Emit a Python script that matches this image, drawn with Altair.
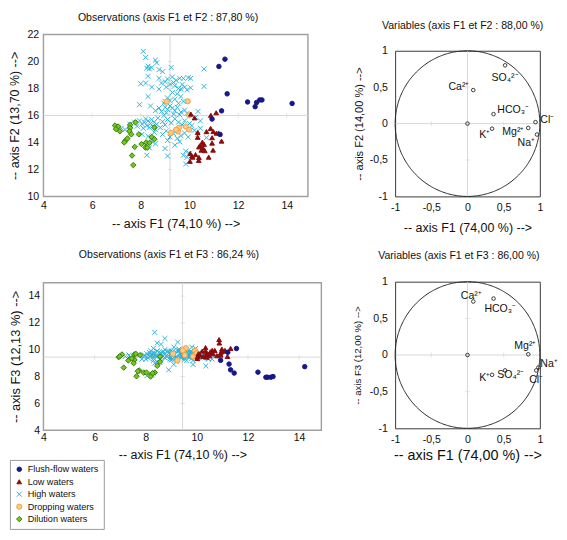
import altair as alt
import numpy as np
import pandas as pd

# ---------------- data ----------------
GROUPS = ["Flush-flow waters", "Low waters", "High waters", "Dropping waters", "Dilution waters"]
FILLS = ["#17178a", "#8a0c0c", "#2cb2d8", "#fbc98c", "#79c61f"]
STROKES = ["#17178a", "#8a0c0c", "#2cb2d8", "#f2a03a", "#2e7a0d"]
SHAPES = ["circle", "triangle-up", "M-1,-1L1,1M-1,1L1,-1", "circle", "diamond"]
SIZES = [22, 32, 32, 44, 30]

# observations: (F1, F2, F3)
FLUSH = [(11.46, 20.17, 8.26), (11.21, 19.63, 9.81), (11.55, 17.60, 10.09), (12.39, 17.00, 8.33),
         (12.76, 16.96, 7.95), (12.89, 17.15, 7.95), (12.98, 17.15, 8.00), (12.70, 16.65, 7.95),
         (14.22, 16.89, 8.74), (11.32, 16.34, 8.50), (10.93, 15.73, 9.21), (11.26, 14.59, 8.93)]

LOW = [(10.06, 16.10, 9.70), (10.21, 15.82, 9.90), (10.88, 16.01, 10.50), (11.10, 16.20, 9.95),
       (10.87, 15.04, 10.76), (10.98, 14.81, 10.05), (11.11, 14.69, 9.90), (10.34, 14.74, 10.16),
       (10.34, 14.38, 9.90), (10.93, 14.35, 9.75), (11.32, 14.10, 10.10), (10.53, 14.02, 9.85),
       (10.93, 13.95, 9.60), (10.60, 13.86, 9.95), (10.39, 13.67, 9.60), (10.49, 13.43, 9.55),
       (10.63, 13.39, 9.70), (10.97, 13.43, 9.85), (10.03, 13.19, 9.50), (10.13, 12.91, 9.60),
       (10.39, 12.89, 9.75), (10.79, 12.91, 9.55), (10.38, 12.67, 9.45), (10.02, 12.60, 9.35),
       (10.45, 13.80, 9.65), (10.55, 13.60, 9.80), (10.25, 13.10, 9.50), (10.10, 13.00, 9.65),
       (11.20, 14.70, 9.50), (10.70, 14.80, 9.95)]

HIGH = [(8.10, 20.75, 9.60), (8.20, 20.30, 9.90), (8.60, 20.10, 10.40), (8.65, 19.90, 9.80),
        (8.30, 19.65, 10.10), (8.35, 19.45, 11.30), (8.25, 19.50, 9.70), (8.45, 19.55, 10.50),
        (8.75, 19.40, 10.84), (8.90, 19.25, 9.90), (9.25, 19.55, 10.57), (10.60, 19.45, 9.30),
        (8.30, 18.90, 9.50), (8.75, 18.75, 10.00), (9.00, 18.50, 9.70), (9.10, 18.70, 10.20),
        (9.30, 18.85, 9.90), (9.45, 18.60, 9.60), (9.60, 18.75, 10.00), (9.75, 18.75, 9.80),
        (9.95, 18.80, 10.10), (10.05, 18.75, 9.70), (9.20, 18.30, 9.40), (9.35, 18.45, 9.75),
        (8.00, 18.35, 9.30), (8.20, 18.40, 9.60), (8.45, 18.10, 9.90), (8.85, 18.40, 9.50),
        (9.05, 18.10, 9.85), (9.40, 18.20, 9.55), (9.55, 18.00, 9.95), (9.65, 17.95, 9.65),
        (9.80, 18.10, 10.20), (9.90, 17.90, 9.90), (10.05, 18.05, 9.75), (10.60, 18.15, 9.60),
        (9.70, 18.30, 9.45), (8.75, 17.95, 9.70), (8.30, 17.40, 9.80), (9.10, 17.30, 9.60),
        (9.30, 17.70, 10.05), (9.50, 17.60, 9.70), (9.65, 17.40, 9.50), (9.00, 17.05, 9.90),
        (9.20, 17.10, 9.35), (9.40, 17.20, 9.80), (9.55, 16.90, 9.60), (9.75, 17.05, 9.85),
        (8.95, 16.90, 9.45), (7.95, 16.80, 9.60), (8.40, 16.70, 9.55), (8.60, 16.35, 9.75),
        (8.75, 16.55, 9.40), (8.85, 16.30, 9.90), (9.00, 16.60, 9.60), (9.10, 16.45, 9.75),
        (9.20, 16.70, 9.50), (9.30, 16.55, 9.95), (9.40, 16.35, 9.65), (9.50, 16.60, 9.40),
        (9.65, 16.25, 9.80), (9.80, 16.40, 9.55), (9.05, 16.20, 9.85), (8.95, 16.00, 9.30),
        (9.35, 16.10, 9.70), (9.60, 16.05, 10.00), (9.90, 16.15, 9.60), (10.35, 16.30, 9.45),
        (10.25, 15.85, 9.70), (10.45, 15.60, 9.35), (7.55, 15.35, 9.45), (7.75, 15.50, 9.60),
        (7.85, 15.20, 9.30), (7.95, 15.60, 9.55), (8.05, 15.35, 9.70), (8.10, 15.05, 9.40),
        (8.15, 15.50, 9.80), (8.20, 15.75, 9.50), (8.25, 15.25, 9.65), (8.30, 15.60, 9.35),
        (8.35, 15.10, 9.75), (8.40, 15.40, 9.50), (8.45, 15.70, 9.90), (8.50, 15.20, 9.60),
        (8.55, 15.50, 9.30), (8.60, 14.95, 9.70), (8.65, 15.35, 9.45), (8.70, 15.80, 9.85),
        (8.80, 15.10, 9.55), (8.90, 15.55, 9.75), (9.00, 15.30, 9.40), (9.10, 15.70, 9.65),
        (9.25, 15.45, 9.90), (9.40, 15.75, 9.50), (9.55, 15.50, 9.75), (9.70, 15.30, 9.60),
        (9.80, 15.60, 9.85), (10.00, 15.40, 9.55), (10.10, 15.25, 9.40), (10.45, 15.05, 9.30),
        (7.20, 15.05, 9.50), (7.35, 14.95, 9.60), (8.05, 14.60, 8.07), (8.30, 14.45, 9.20),
        (8.55, 14.75, 9.05), (8.90, 14.60, 8.50), (9.05, 14.85, 9.30), (9.20, 14.40, 9.15),
        (9.35, 14.65, 9.45), (9.50, 14.30, 9.25), (9.65, 14.50, 9.50), (9.80, 14.70, 9.35),
        (9.95, 14.40, 9.60), (10.20, 14.90, 9.40), (10.35, 14.60, 8.79), (10.70, 14.35, 9.60),
        (8.45, 14.10, 9.10), (9.10, 14.15, 8.90), (9.60, 14.05, 9.20), (8.60, 13.90, 9.35),
        (8.35, 13.60, 9.00), (9.00, 13.55, 9.25), (9.40, 13.80, 9.40), (9.10, 13.00, 9.60),
        (8.25, 13.05, 8.14), (9.85, 13.35, 8.90), (10.00, 13.20, 9.30), (9.75, 13.05, 9.50),
        (9.85, 12.40, 9.20), (9.90, 12.90, 9.45)]

DROPPING = [(9.07, 17.03, 9.70), (9.93, 17.05, 9.93), (9.99, 16.01, 9.64), (9.85, 15.18, 9.50),
            (9.57, 15.09, 10.12), (9.99, 14.95, 9.75), (9.53, 14.81, 9.60), (9.24, 14.71, 9.20),
            (9.45, 14.95, 9.95)]

DILUTION = [(6.94, 15.25, 9.45), (7.07, 15.18, 9.65), (6.98, 14.99, 9.50), (7.14, 14.83, 8.67),
            (7.56, 15.30, 9.65), (7.56, 15.07, 9.25), (7.53, 14.83, 9.00), (7.61, 14.60, 9.70),
            (7.78, 15.49, 9.60), (7.92, 14.60, 8.30), (7.37, 14.14, 9.30), (7.32, 14.00, 9.20),
            (7.75, 13.67, 8.45), (8.03, 13.88, 8.30), (8.22, 14.00, 8.14), (8.36, 13.97, 8.30),
            (8.19, 13.62, 8.00), (8.27, 13.62, 8.25), (8.45, 14.40, 8.80), (8.56, 14.24, 9.10),
            (8.56, 15.11, 9.50), (7.64, 13.03, 8.02), (7.69, 12.32, 8.40), (7.45, 14.30, 9.35)]

# centre lines of the observation maps and the tick values marked on them
TL_CENTER = (9.2, 16.0)
BL_CENTER = (9.44, 9.45)
X_TICKS = [4, 6, 8, 10, 12, 14]
TL_Y_TICKS = [10, 12, 14, 16, 18, 20, 22]
BL_Y_TICKS = [4, 6, 8, 10, 12, 14]
VAR_TICKS = [-1, -0.5, 0, 0.5, 1]

# variables (correlations with the factors)
VARS = ["origin", "Ca", "SO4", "HCO3", "Cl", "Mg", "Na", "K"]
VAR_LABELS = ["", "Ca²⁺", "SO₄²⁻", "HCO₃⁻", "Cl⁻", "Mg²⁺", "Na⁺", "K⁺"]
VAR_F1 = [0.0, 0.08, 0.52, 0.36, 0.94, 0.84, 0.96, 0.34]
VAR_F2 = [0.0, 0.46, 0.80, 0.13, 0.02, -0.06, -0.15, -0.07]
VAR_F1_B = [0.0, 0.08, 0.52, 0.36, 0.95, 0.84, 0.98, 0.34]
VAR_F3 = [0.0, 0.73, -0.21, 0.77, -0.21, 0.01, -0.17, -0.27]

# ---------------- tables ----------------
obs_rows = []
for g, pts in [("High waters", HIGH), ("Dilution waters", DILUTION), ("Dropping waters", DROPPING),
               ("Low waters", LOW), ("Flush-flow waters", FLUSH)]:
    for f1, f2, f3 in pts:
        obs_rows.append({"group": g, "F1": f1, "F2": f2, "F3": f3})
obs = pd.DataFrame(obs_rows)

var12 = pd.DataFrame({"var": VARS, "label": VAR_LABELS, "x": VAR_F1, "y": VAR_F2})
var13 = pd.DataFrame({"var": VARS, "label": VAR_LABELS, "x": VAR_F1_B, "y": VAR_F3})

ang = np.linspace(0, 2 * np.pi, 361)
circle = pd.DataFrame({"i": np.arange(361), "x": np.cos(ang), "y": np.sin(ang)})

FONT = "Liberation Sans"
XDOM = [4, 14.87]
GRID = "#d6d6d6"


def centre_layers(X, Y, cx, cy, xt, yt):
    """Grey centre lines with small tick marks on them."""
    vline = alt.Chart(pd.DataFrame({"v": [cx]})).mark_rule(color=GRID, strokeWidth=1).encode(x=X("v:Q"))
    hline = alt.Chart(pd.DataFrame({"v": [cy]})).mark_rule(color=GRID, strokeWidth=1).encode(y=Y("v:Q"))
    tx = alt.Chart(pd.DataFrame({"t": xt, "c": [cy] * len(xt)})).mark_tick(
        orient="vertical", size=5, thickness=1, color=GRID).encode(x=X("t:Q"), y=Y("c:Q"))
    ty = alt.Chart(pd.DataFrame({"t": yt, "c": [cx] * len(yt)})).mark_tick(
        orient="horizontal", size=5, thickness=1, color=GRID).encode(x=X("c:Q"), y=Y("t:Q"))
    return [vline, hline, tx, ty]


def obs_panel(ycol, ydom, yticks, ytitle, title, w, h, center, legend, tdx, toff,
              ytfs, xlp, xtp, ylp, ytp):
    leg = legend
    xsc = alt.Scale(domain=XDOM, nice=False, zero=False)
    ysc = alt.Scale(domain=ydom, nice=False, zero=False)
    xax = alt.Axis(values=X_TICKS, title="-- axis F1 (74,10 %) -->",
                   titleFontSize=13, labelFontSize=11, labelPadding=xlp, titlePadding=xtp,
                   labelFlush=False, labelOverlap=False)
    yax = alt.Axis(values=yticks, title=ytitle, titleFontSize=ytfs, labelFontSize=11,
                   labelPadding=ylp, titlePadding=ytp, labelFlush=False, labelOverlap=False)
    X = lambda f: alt.X(f, scale=xsc, axis=xax)
    Y = lambda f: alt.Y(f, scale=ysc, axis=yax)
    inner_x = [t for t in X_TICKS if XDOM[0] < t < XDOM[1]]
    inner_y = [t for t in yticks if ydom[0] < t < ydom[1]]
    pts = alt.Chart(obs).mark_point(filled=True, strokeWidth=1, opacity=1).encode(
        x=X("F1:Q"), y=Y(f"{ycol}:Q"),
        fill=alt.Fill("group:N", scale=alt.Scale(domain=GROUPS, range=FILLS), legend=leg),
        stroke=alt.Stroke("group:N", scale=alt.Scale(domain=GROUPS, range=STROKES), legend=leg),
        shape=alt.Shape("group:N", scale=alt.Scale(domain=GROUPS, range=SHAPES), legend=leg),
        size=alt.Size("group:N", scale=alt.Scale(domain=GROUPS, range=SIZES), legend=leg),
    )
    layers = centre_layers(X, Y, center[0], center[1], inner_x, inner_y) + [pts]
    return alt.layer(*layers).properties(
        width=w, height=h,
        title=alt.TitleParams(title, fontSize=11, fontWeight="normal", offset=toff, dx=tdx),
        view=alt.ViewBackground(stroke="#a0a0a0", strokeWidth=1.5),
    )


LABEL_STYLE = {
    "12": {"Ca": ("right", -4, -3), "SO4": ("center", 0, 13), "HCO3": ("left", 4, -4),
           "Cl": ("left", 5, -2), "Mg": ("right", -4, 4), "Na": ("right", -2, 9), "K": ("right", -2, 7)},
    "13": {"Ca": ("center", -2, -6), "HCO3": ("center", 7, 11), "Mg": ("center", -3, -9),
           "Na": ("left", 2, -3), "Cl": ("center", 0, 10), "SO4": ("center", 6, 5), "K": ("right", -2, 3)},
}


def var_panel(df, key, ytitle, title, h, xtfs, ytfs, tdx, toff, xlp, xtp, ylp, ytp):
    sc = alt.Scale(domain=[-1, 1], nice=False, zero=False)
    lab = "replace(toString(datum.value), '.', ',')"
    xax = alt.Axis(values=VAR_TICKS, title="-- axis F1 (74,00 %) -->", labelExpr=lab,
                   titleFontSize=xtfs, labelFontSize=11, labelPadding=xlp, titlePadding=xtp,
                   labelFlush=False, labelOverlap=False)
    yax = alt.Axis(values=VAR_TICKS, title=ytitle, labelExpr=lab,
                   titleFontSize=ytfs, labelFontSize=11, labelPadding=ylp, titlePadding=ytp,
                   labelFlush=False, labelOverlap=False)
    X = lambda f: alt.X(f, scale=sc, axis=xax)
    Y = lambda f: alt.Y(f, scale=sc, axis=yax)
    circ = alt.Chart(circle).mark_line(color="#222", strokeWidth=1).encode(
        x=X("x:Q"), y=Y("y:Q"), order="i:Q")
    pts = alt.Chart(df).mark_point(shape="circle", filled=False, size=14, color="#333", strokeWidth=1,
                                   opacity=1).encode(x=X("x:Q"), y=Y("y:Q"))
    inner = [t for t in VAR_TICKS if t not in (-1, 0, 1)]
    layers = centre_layers(X, Y, 0.0, 0.0, inner, inner) + [circ, pts]
    for v, (al, dx, dy) in LABEL_STYLE[key].items():
        layers.append(
            alt.Chart(df).transform_filter(alt.datum.var == v).mark_text(
                align=al, baseline="middle", dx=dx, dy=dy, fontSize=11, font=FONT, color="#111"
            ).encode(x=X("x:Q"), y=Y("y:Q"), text="label:N")
        )
    return alt.layer(*layers).properties(
        width=151, height=h,
        title=alt.TitleParams(title, fontSize=11, fontWeight="normal", offset=toff, dx=tdx),
        view=alt.ViewBackground(stroke="#333", strokeWidth=1),
    )


def spacer(h):
    return alt.Chart(pd.DataFrame({"a": [0]})).mark_point(opacity=0, size=1).properties(
        width=1, height=h, view=alt.ViewBackground(stroke="transparent"))


legend = alt.Legend(orient="none", legendX=-35, legendY=185, title=None, strokeColor="#999",
                    fillColor="white", padding=5, labelFontSize=9.5, rowPadding=2, labelFont=FONT)

TL = obs_panel("F2", [10, 22], TL_Y_TICKS, "-- axis F2 (13,70 %) -->",
               "Observations (axis F1 et F2 : 87,80 %)", 276, 169, TL_CENTER, None, -8, 6,
               13, 4, 7.5, 5, 6)
BL = obs_panel("F3", [4, 15], BL_Y_TICKS, "-- axis F3 (12,13 %) -->",
               "Observations (axis F1 et F3 : 86,24 %)", 290, 154, BL_CENTER, legend, -14, 23,
               13.4, 2, 6, 4, 6)
TR = var_panel(var12, "12", "-- axis F2 (14,00 %) -->", "Variables (axis F1 et F2 : 88,00 %)", 152,
               13, 11.5, -5, 15, 6, 9.5, 8, 5)
BR = var_panel(var13, "13", "-- axis F3 (12,00 %) -->", "Variables (axis F1 et F3 : 86,00 %)", 153,
               15, 10, -9, 16, 6, 3.5, 8, 7)

RES = dict(fill="independent", stroke="independent", shape="independent", size="independent",
           x="independent", y="independent")

left = alt.vconcat(alt.vconcat(spacer(1), TL, spacing=0).resolve_scale(**RES), BL,
                   spacing=17).resolve_scale(**RES)
right = alt.vconcat(alt.vconcat(spacer(9), TR, spacing=0).resolve_scale(**RES), BR,
                    spacing=15).resolve_scale(**RES)

chart = alt.hconcat(left, right, spacing=30,
                    padding={"left": 0, "top": -11, "right": 0, "bottom": 0}).resolve_scale(**RES).configure(
    font=FONT
).configure_axis(
    grid=False, ticks=False, tickSize=0, domain=False, labelColor="#111", titleColor="#111",
    titleFontWeight="normal", labelFont=FONT, titleFont=FONT
).configure_title(font=FONT, color="#111", fontWeight="normal").configure_legend(
    symbolStrokeWidth=1, labelColor="#111"
)

chart.save("out.html", embed_options={"renderer": "svg", "actions": False})
